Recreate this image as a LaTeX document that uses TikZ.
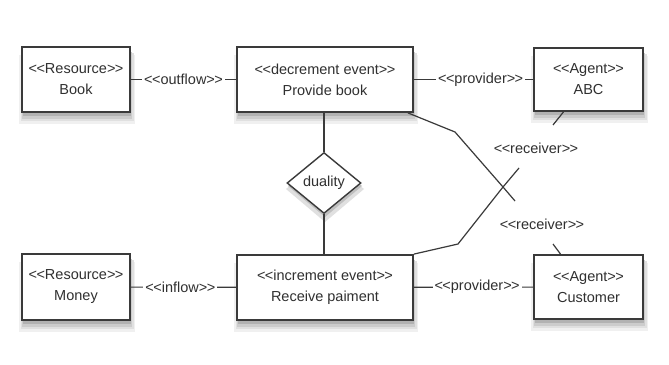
\documentclass[tikz,border=0pt]{standalone}
\usepackage{fontspec}
\setmainfont{Liberation Sans}
\usepackage{xcolor}
\usetikzlibrary{shapes.geometric}

\definecolor{umlline}{HTML}{3A3A3A}
\definecolor{umltext}{HTML}{303030}
\newcommand{\uml}[1]{<\kern-0.6pt<#1>\kern-0.6pt>}
% soft shadow under a box: lower left x, top y, right x, bottom y
\newcommand{\boxshade}[4]{%
  \fill[black!6] (#1-3,#2+8) rectangle (#3+5,#4+12);
  \fill[black!12] (#1-1.5,#2+6) rectangle (#3+3.5,#4+9);
  \fill[black!20] (#1,#2+5) rectangle (#3+2,#4+6.5);
  \fill[black!30] (#1+1,#2+4) rectangle (#3+1,#4+4);}

\tikzset{
  umlbox/.style={draw=umlline, line width=1.8pt, fill=white, align=center,
    text=umltext, inner sep=0pt},
  umlrel/.style={draw=umlline, line width=1.2pt},
  rellabel/.style={fill=white, text=umltext, inner sep=2pt}
}

\begin{document}
\begin{tikzpicture}[x=1pt, y=-1pt, font=\fontsize{14.5}{21}\selectfont]
\useasboundingbox[fill=white] (0,0) rectangle (669,364);
% shadows first
\boxshade{22}{47}{130}{112}
\boxshade{237}{47}{413}{112}
\boxshade{534}{48}{643}{111}
\boxshade{22}{254}{130}{320}
\boxshade{237}{255}{413}{320}
\boxshade{534}{255}{643}{319}
\fill[black!12] (325,157) -- (364,189) -- (325,222) -- (286,189) -- cycle;
\fill[black!25] (325,155) -- (362,186) -- (325,217) -- (288,186) -- cycle;

% resources, events and agents
\node[umlbox, minimum width=108pt, minimum height=65pt] (book) at (76,79.5) {\uml{Resource}\\Book};
\node[umlbox, minimum width=176pt, minimum height=65pt] (provide) at (325,79.5) {\uml{decrement event}\\Provide book};
\node[umlbox, minimum width=109pt, minimum height=63pt] (abc) at (588.5,79.5) {\uml{Agent}\\ABC};
\node[umlbox, minimum width=108pt, minimum height=66pt] (money) at (76,287) {\uml{Resource}\\Money};
\node[umlbox, minimum width=176pt, minimum height=65pt] (receive) at (325,287.5) {\uml{increment event}\\Receive paiment};
\node[umlbox, minimum width=109pt, minimum height=64pt] (customer) at (588.5,287) {\uml{Agent}\\Customer};
\node[umlbox, diamond, line width=1.4pt, minimum width=74pt, minimum height=61pt, aspect=1.2] (duality) at (324,183) {duality};

% flows and providers
\draw[umlrel] (book) -- node[rellabel] (outflow) {\uml{outflow}} (provide);
\draw[umlrel] (provide) -- node[rellabel, pos=0.56] (provA) {\uml{provider}} (abc);
\draw[umlrel] (money) -- node[rellabel, pos=0.47] (inflow) {\uml{inflow}} (receive);
\draw[umlrel] (receive) -- node[rellabel, pos=0.53] (provB) {\uml{provider}} (customer);

% duality
\draw[umlrel] (provide.south -| duality) -- (duality.north);
\draw[umlrel] (duality.south) -- (receive.north -| duality);

% receivers (crossing)
\coordinate (cross) at (503,187);
\coordinate (a1) at (455,132);
\coordinate (aEnd) at (515,201);
\coordinate (b1) at (458,244);
\coordinate (bEnd) at (519,168);
\draw[umlrel] ([xshift=-6pt]provide.south east) -- (a1) -- (cross) -- (aEnd);
\draw[umlrel] (receive.north east) -- (b1) -- (cross) -- (bEnd);
\coordinate (abcStub) at (553,125);
\coordinate (custStub) at (553,244);
\draw[umlrel] ([xshift=-25pt]abc.south) -- (abcStub);
\draw[umlrel] (custStub) -- ([xshift=-28pt]customer.north);
\node[text=umltext] (recA) at (536,148) {\uml{receiver}};
\node[text=umltext] (recB) at (542,224) {\uml{receiver}};
\end{tikzpicture}
\end{document}
